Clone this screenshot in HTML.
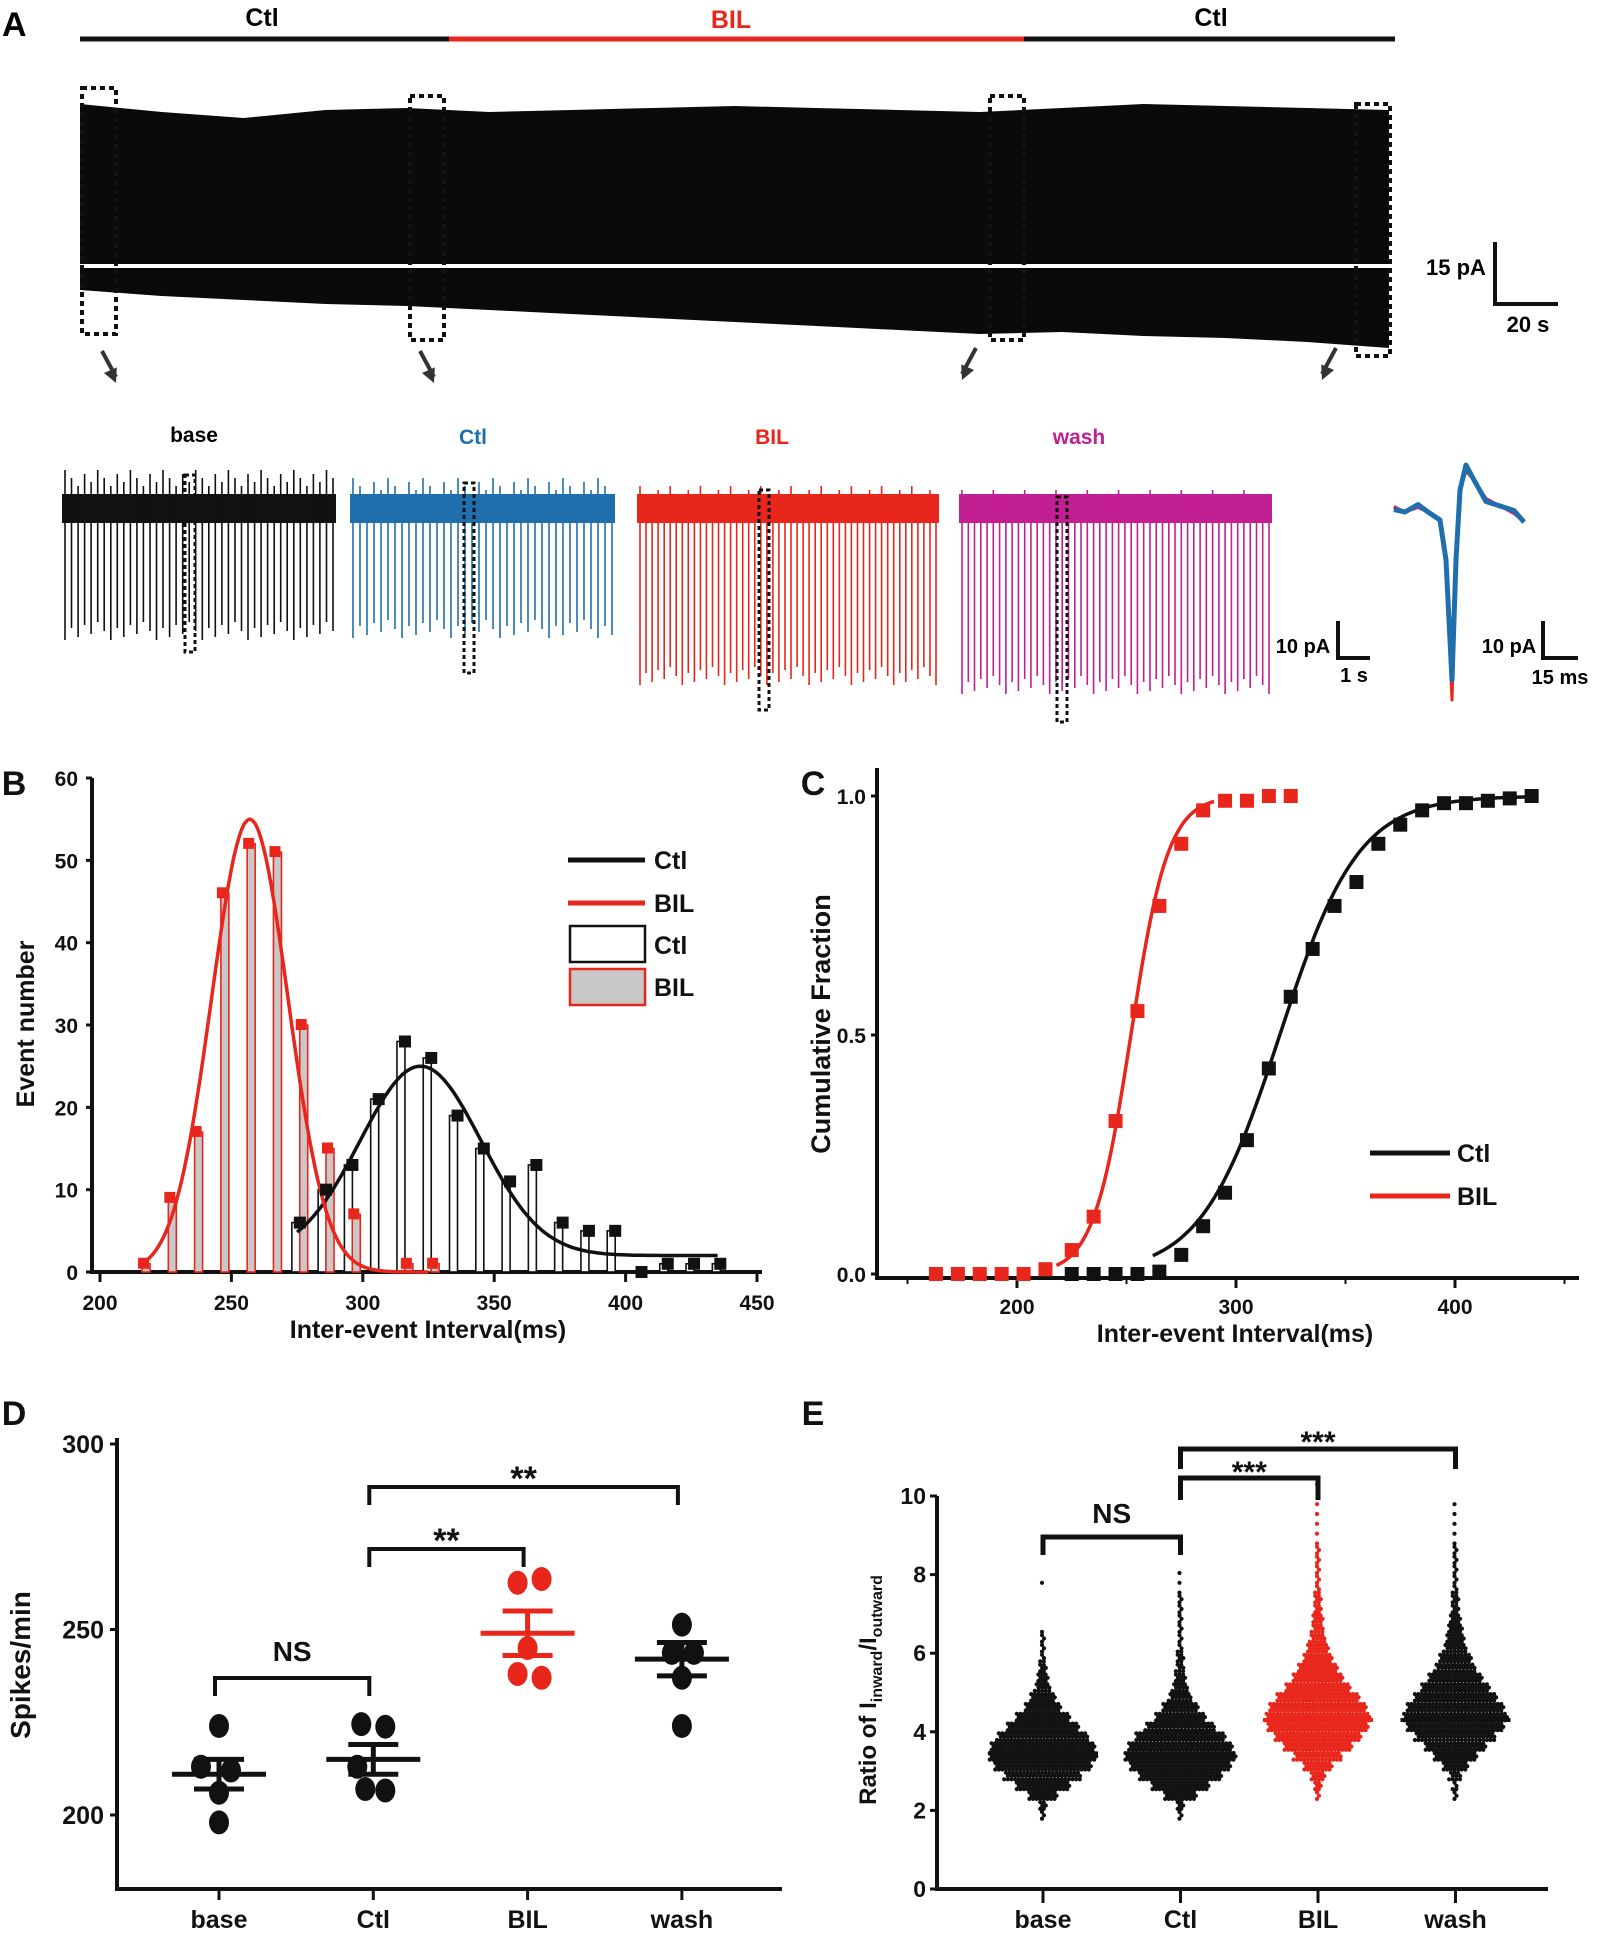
<!DOCTYPE html>
<html><head><meta charset="utf-8"><style>
html,body{margin:0;padding:0;background:#fff}
svg{display:block}
text{font-family:"Liberation Sans Narrow","Liberation Sans",sans-serif;font-weight:bold}
</style></head><body>
<svg id="fig" width="1598" height="1934" viewBox="0 0 1598 1934" xmlns="http://www.w3.org/2000/svg">
<g id="pa">
<text x="2" y="36" font-size="34">A</text>
<line x1="80" y1="39" x2="449" y2="39" stroke="#111" stroke-width="5"/>
<line x1="449" y1="39" x2="1024" y2="39" stroke="#e8261b" stroke-width="5"/>
<line x1="1024" y1="39" x2="1395" y2="39" stroke="#111" stroke-width="5"/>
<text x="262" y="26" font-size="25" text-anchor="middle">Ctl</text>
<text x="731" y="28" font-size="25" text-anchor="middle" fill="#e8261b">BIL</text>
<text x="1211" y="26" font-size="25" text-anchor="middle">Ctl</text>
<text x="1456" y="275" font-size="22" text-anchor="middle">15 pA</text>
<path d="M1495 242 V304 H1558" fill="none" stroke="#111" stroke-width="4"/>
<text x="1528" y="332" font-size="22" text-anchor="middle">20 s</text>
<text x="1303" y="653" font-size="20" text-anchor="middle">10 pA</text>
<path d="M1338 621 V658 H1370" fill="none" stroke="#111" stroke-width="4"/>
<text x="1354" y="682" font-size="20" text-anchor="middle">1 s</text>
<text x="1509" y="653" font-size="20" text-anchor="middle">10 pA</text>
<path d="M1543 621 V658 H1578" fill="none" stroke="#111" stroke-width="4"/>
<text x="1560" y="684" font-size="20" text-anchor="middle">15 ms</text>
<text x="194" y="442" font-size="21" text-anchor="middle">base</text>
<text x="473" y="444" font-size="21" text-anchor="middle" fill="#1f6fad">Ctl</text>
<text x="772" y="444" font-size="21" text-anchor="middle" fill="#e8261b">BIL</text>
<text x="1079" y="444" font-size="21" text-anchor="middle" fill="#c21f93">wash</text>
</g>
<g id="pb"></g>
<g id="pc"></g>
<g id="pd"></g>
<g id="pe"></g>
</svg>
<script>
// ---------- Panel A data ----------
const traceTopEnv = [104,112,118,110,108,112,110,108,106,108,110,112,108,104,106,108,110];
const traceBotEnv = [290,296,300,304,306,310,314,318,322,326,330,334,332,336,338,342,348];
const zoomBoxesX = [82,410,990,1356];
const subTraceNames = ['base','ctl','bil','wash'];
const subTraceColors = ['#111','#1f6fad','#e8261b','#c21f93'];
const subTraceX0 = [62,350,637,959];
const subTraceX1 = [336,615,939,1272];
const subSpikeCount = [42,38,50,50];
const subSpikeUp = [470,478,486,490];
const subSpikeDown = [640,638,685,694];

// ---------- Panel B data ----------
const bTicksX = [200,250,300,350,400,450];
const bTicksY = [0,10,20,30,40,50,60];
const bilBins = [216,226,236,246,256,266,276,286,296,316,326];
const bilCounts = [1,9,17,46,52,51,30,15,7,1,1];
const ctlBins = [273,283,293,303,313,323,333,343,353,363,373,383,393,403,413,423,433];
const ctlCounts = [6,10,13,21,28,26,19,15,11,13,6,5,5,0,1,1,1];
const bilFit = [55,257,14.5,0];     // amp, mean, sigma, offset
const ctlFit = [23,322,23,2];

// ---------- Panel C data ----------
const cTicksX = [200,300,400];
const cTicksY = [0.0,0.5,1.0];
const bilCdfX = [163,173,183,193,203,213,225,235,245,255,265,275,285,295,305,315,325];
const bilCdfY = [0,0,0,0,0,0.01,0.05,0.12,0.32,0.55,0.77,0.90,0.97,0.99,0.99,1.0,1.0];
const ctlCdfX = [225,235,245,255,265,275,285,295,305,315,325,335,345,355,365,375,385,395,405,415,425,435];
const ctlCdfY = [0,0,0,0,0.005,0.04,0.10,0.17,0.28,0.43,0.58,0.68,0.77,0.82,0.90,0.94,0.97,0.985,0.985,0.99,0.995,1.0];
const bilCdfFit = [252,8.5];
const ctlCdfFit = [320,18];

// ---------- Panel D data ----------
const dCats = ['base','Ctl','BIL','wash'];
const dTicks = [200,250,300];
const dBase = [224,213,212,206,198];
const dCtl = [224.5,223.8,213,207,206.6];
const dBil = [262.6,263.6,245,238,237];
const dWash = [251.3,243.7,243.7,237,224];
const dMean = [211,215,249,242];
const dSem = [4,4,6,4.5];

// ---------- Panel E data ----------
const eCats = ['base','Ctl','BIL','wash'];
const eTicks = [0,2,4,6,8,10];
const eBinStart = 1.75, eBinStep = 0.25;
const eBase = [2,6,24,44,64,80,90,86,76,60,44,30,20,13,8,6,4,3,2,1,0,0,0,0,1];
const eCtl  = [2,6,26,48,68,84,92,86,74,58,42,29,19,13,9,7,5,4,3,3,2,2,2,1,1,1];
const eBil  = [0,0,2,5,12,24,40,56,72,84,88,80,68,54,42,32,24,18,13,10,8,6,5,4,3,3,2,2,1,1,1,1,1,0,1];
const eWash = [0,0,2,4,10,21,35,51,67,80,86,80,69,56,44,34,26,19,14,11,8,6,5,4,3,2,2,2,1,1,1,1,1];
const eMeans = [3.45,3.45,4.3,4.3];

const NS='http://www.w3.org/2000/svg';
function mk(parent,tag,attrs){const e=document.createElementNS(NS,tag);for(const k in attrs)e.setAttribute(k,attrs[k]);parent.appendChild(e);return e;}
function txt(parent,x,y,s,size,anchor,fill){const t=mk(parent,'text',{x:x,y:y,'font-size':size,'text-anchor':anchor||'middle',fill:fill||'#111'});t.textContent=s;return t;}

// ===== Panel A =====
(function(){
  const g=document.getElementById('pa');
  const x0=80,x1=1389,base=266;
  let d='M'+x0+' '+base;
  const n=traceTopEnv.length;
  for(let i=0;i<n;i++){d+=' L'+(x0+(x1-x0)*i/(n-1)).toFixed(1)+' '+traceTopEnv[i];}
  for(let i=n-1;i>=0;i--){d+=' L'+(x0+(x1-x0)*i/(n-1)).toFixed(1)+' '+traceBotEnv[i];}
  d+='Z';
  const p=mk(g,'path',{d:d,fill:'#0a0a0a'});
  
  
  const wl=mk(g,'line',{x1:x0,y1:base,x2:x1,y2:base,stroke:'#fff','stroke-width':4});
  
  
  const boxTop=[88,96,96,104],boxBot=[334,340,340,356];
  const arrowTip=[[116,383],[434,383],[962,380],[1322,380]];
  const arrowDir=[1,1,-1,-1];
  zoomBoxesX.forEach((bx,i)=>{
    const r=mk(g,'rect',{x:bx,y:boxTop[i],width:34,height:boxBot[i]-boxTop[i],fill:'none',stroke:'#111','stroke-width':4,'stroke-dasharray':'5 4'});
    
    
    const [tx,ty]=arrowTip[i];
    const sx=tx-arrowDir[i]*14, sy=ty-32;
    const a=mk(g,'line',{x1:sx,y1:sy,x2:tx,y2:ty-6,stroke:'#333','stroke-width':4});
    
    
    const L=Math.hypot(tx-sx,ty-sy),ux=(tx-sx)/L,uy=(ty-sy)/L,px=-uy,py=ux;
    const bxh=tx-ux*14,byh=ty-uy*14;
    const h=mk(g,'polygon',{points:`${tx},${ty} ${(bxh+px*7).toFixed(1)},${(byh+py*7).toFixed(1)} ${(bxh-px*7).toFixed(1)},${(byh-py*7).toFixed(1)}`,fill:'#333'});
    
    
  });
  subTraceNames.forEach((nm,i)=>{
    const sg=mk(g,'g',{});
    
    
    const c=subTraceColors[i],a=subTraceX0[i],b=subTraceX1[i];
    mk(sg,'rect',{x:a,y:494,width:b-a,height:29,fill:c});
    const cnt=subSpikeCount[i];
    let sd='';
    for(let k=0;k<cnt;k++){
      const x=(a+3+(b-a-6)*k/(cnt-1)).toFixed(1);
      const up=subSpikeUp[i]+((k*7)%5)*4, dn=subSpikeDown[i]-((k*11)%7)*3;
      sd+=`M${x} ${up} V${dn} `;
    }
    mk(sg,'path',{d:sd,stroke:c,'stroke-width':1.6,fill:'none'});
    const bx=[190,469,764,1062][i];
    const br=mk(sg,'rect',{x:bx-5,y:[475,483,490,497][i],width:10,height:[177,190,220,225][i],fill:'none',stroke:'#111','stroke-width':3,'stroke-dasharray':'4 3'});
    
    
  });
  const wcols=['#c21f93','#e8261b','#111','#1f6fad'];
  wcols.forEach((c,j)=>{
    const o=j-1.5;
    const pts=[[1394,508+o],[1405,512],[1418,506-o],[1428,512],[1440,520],[1446,560],[1452,700-(j==1?0:20)],[1456,560],[1460,490],[1466,468-o*2],[1474,480],[1486,500+o],[1500,506],[1514,512-o],[1524,522]];
    const wp=mk(g,'polyline',{points:pts.map(p=>p.join(',')).join(' '),fill:'none',stroke:c,'stroke-width':j==3?5:3,'stroke-linejoin':'round'});
    
    
  });
})();

// ===== Panel B =====
const xB=ms=>100+(ms-200)*2.628;
const yB=v=>1272-v*8.233;
(function(){
  const g=document.getElementById('pb');
  txt(g,14,795,'B',34,'middle');
  const ax=mk(g,'path',{d:`M92 778 V1272 H762`,fill:'none',stroke:'#111','stroke-width':4});
  
  
  bTicksX.forEach(v=>{mk(g,'line',{x1:xB(v),y1:1272,x2:xB(v),y2:1282,stroke:'#111','stroke-width':3});
    const t=txt(g,xB(v),1310,String(v),21);});
  bTicksY.forEach(v=>{mk(g,'line',{x1:86,y1:yB(v),x2:92,y2:yB(v),stroke:'#111','stroke-width':3});
    const t=txt(g,78,yB(v)+8,String(v),21,'end');});
  const yl=txt(g,0,0,'Event number',25);yl.setAttribute('transform','translate(34,1024) rotate(-90)');
  
  const xl=txt(g,428,1338,'Inter-event Interval(ms)',25);
  
  const bw=8;
  ctlBins.forEach((ms,i)=>{
    const r=mk(g,'rect',{x:xB(ms),y:yB(ctlCounts[i]),width:bw,height:yB(0)-yB(ctlCounts[i]),fill:'#fff',stroke:'#111','stroke-width':1.6});
    
  });
  bilBins.forEach((ms,i)=>{
    const r=mk(g,'rect',{x:xB(ms),y:yB(bilCounts[i]),width:bw,height:yB(0)-yB(bilCounts[i]),fill:'#c8c8c8',stroke:'#e8261b','stroke-width':1.6});
    
  });
  function gauss(p,x){return p[3]+p[0]*Math.exp(-Math.pow(x-p[1],2)/(2*p[2]*p[2]));}
  let dc='';for(let ms=275;ms<=435;ms+=1){dc+=(ms==275?'M':'L')+xB(ms).toFixed(1)+' '+yB(gauss(ctlFit,ms)).toFixed(1);}
  const pc=mk(g,'path',{d:dc,fill:'none',stroke:'#111','stroke-width':3.5});
  let db='';for(let ms=215;ms<=325;ms+=1){db+=(ms==215?'M':'L')+xB(ms).toFixed(1)+' '+yB(gauss(bilFit,ms)).toFixed(1);}
  const pb=mk(g,'path',{d:db,fill:'none',stroke:'#e8261b','stroke-width':3.5});
  ctlBins.forEach((ms,i)=>{const m=mk(g,'rect',{x:xB(ms)+2,y:yB(ctlCounts[i])-6,width:12,height:12,fill:'#111'});});
  bilBins.forEach((ms,i)=>{const m=mk(g,'rect',{x:xB(ms)-4,y:yB(bilCounts[i])-6,width:11,height:11,fill:'#e8261b'});});
  const lg=mk(g,'g',{});
  mk(lg,'line',{x1:568,y1:860,x2:645,y2:860,stroke:'#111','stroke-width':5});
  txt(lg,654,869,'Ctl',25,'start');
  mk(lg,'line',{x1:568,y1:903,x2:645,y2:903,stroke:'#e8261b','stroke-width':5});
  txt(lg,654,912,'BIL',25,'start');
  mk(lg,'rect',{x:570,y:926,width:75,height:36,fill:'#fff',stroke:'#111','stroke-width':2.5});
  txt(lg,654,954,'Ctl',25,'start');
  mk(lg,'rect',{x:570,y:969,width:75,height:36,fill:'#c8c8c8',stroke:'#e8261b','stroke-width':2.5});
  txt(lg,654,996,'BIL',25,'start');
})();

// ===== Panel C =====
const xC=ms=>1017+(ms-200)*2.19;
const yC=f=>1274-f*478;
(function(){
  const g=document.getElementById('pc');
  txt(g,813,795,'C',34,'middle');
  const ax=mk(g,'path',{d:`M877 768 V1278 H1579`,fill:'none',stroke:'#111','stroke-width':4});
  
  cTicksX.forEach(v=>{mk(g,'line',{x1:xC(v),y1:1278,x2:xC(v),y2:1288,stroke:'#111','stroke-width':3});
    const t=txt(g,xC(v),1314,String(v),21);});
  [150,250,350,450].forEach(v=>mk(g,'line',{x1:xC(v),y1:1278,x2:xC(v),y2:1284,stroke:'#111','stroke-width':2}));
  cTicksY.forEach(v=>{mk(g,'line',{x1:871,y1:yC(v),x2:877,y2:yC(v),stroke:'#111','stroke-width':3});
    const t=txt(g,866,yC(v)+8,v.toFixed(1),21,'end');});
  const yl=txt(g,0,0,'Cumulative Fraction',27);yl.setAttribute('transform','translate(830,1024) rotate(-90)');
  
  const xl=txt(g,1235,1342,'Inter-event Interval(ms)',25);
  
  const logi=(p,x)=>1/(1+Math.exp(-(x-p[0])/p[1]));
  let dr='';for(let ms=218;ms<=290;ms++){dr+=(ms==218?'M':'L')+xC(ms).toFixed(1)+' '+yC(logi(bilCdfFit,ms)).toFixed(1);}
  const pr=mk(g,'path',{d:dr,fill:'none',stroke:'#e8261b','stroke-width':3.5});
  let dk='';for(let ms=262;ms<=435;ms++){dk+=(ms==262?'M':'L')+xC(ms).toFixed(1)+' '+yC(logi(ctlCdfFit,ms)).toFixed(1);}
  const pk=mk(g,'path',{d:dk,fill:'none',stroke:'#111','stroke-width':3.5});
  bilCdfX.forEach((ms,i)=>{const m=mk(g,'rect',{x:xC(ms)-7,y:yC(bilCdfY[i])-7,width:14,height:14,fill:'#e8261b'});});
  ctlCdfX.forEach((ms,i)=>{const m=mk(g,'rect',{x:xC(ms)-7,y:yC(ctlCdfY[i])-7,width:14,height:14,fill:'#111'});});
  const lg=mk(g,'g',{});
  mk(lg,'line',{x1:1370,y1:1153,x2:1450,y2:1153,stroke:'#111','stroke-width':5});
  txt(lg,1457,1162,'Ctl',25,'start');
  mk(lg,'line',{x1:1370,y1:1196,x2:1450,y2:1196,stroke:'#e8261b','stroke-width':5});
  txt(lg,1457,1205,'BIL',25,'start');
})();

// ===== Panel D =====
const yD=v=>1815-(v-200)*3.71;
const xD=i=>219+i*154.3;
(function(){
  const g=document.getElementById('pd');
  txt(g,14,1425,'D',34,'middle');
  const ax=mk(g,'path',{d:`M117 1438 V1889 H782`,fill:'none',stroke:'#111','stroke-width':4});
  
  dTicks.forEach(v=>{mk(g,'line',{x1:110,y1:yD(v),x2:117,y2:yD(v),stroke:'#111','stroke-width':3});
    const t=txt(g,104,yD(v)+9,String(v),25,'end');});
  dCats.forEach((c,i)=>{mk(g,'line',{x1:xD(i),y1:1889,x2:xD(i),y2:1900,stroke:'#111','stroke-width':3});
    const t=txt(g,xD(i),1928,c,25);});
  const yl=txt(g,0,0,'Spikes/min',28);yl.setAttribute('transform','translate(30,1665) rotate(-90)');
  
  const series=[dBase,dCtl,dBil,dWash];
  const jits=[[0,-18,12,0,0],[-12,12,-16,-8,12],[-10,14,0,-10,14],[0,-10,12,0,0]];
  series.forEach((arr,i)=>{
    const col=i==2?'#e8261b':'#111';
    arr.forEach((v,k)=>{
      const e=mk(g,'ellipse',{cx:xD(i)+jits[i][k],cy:yD(v),rx:10,ry:12,fill:col});
      
    });
    const m=dMean[i],s=dSem[i],x=xD(i);
    const eg=mk(g,'path',{d:`M${x-47} ${yD(m)} H${x+47} M${x} ${yD(m+s)} V${yD(m-s)} M${x-25} ${yD(m+s)} H${x+25} M${x-25} ${yD(m-s)} H${x+25}`,stroke:col,'stroke-width':5,fill:'none'});
    
  });
  const br=[[0,1,1678,'NS',1651],[1,2,1549,'**',1532],[1,3,1487,'**',1470]];
  br.forEach(b=>{
    const p=mk(g,'path',{d:`M${xD(b[0])-4} ${b[2]+18} V${b[2]} H${xD(b[1])-4} V${b[2]+18}`,fill:'none',stroke:'#111','stroke-width':4});
    
    const t=txt(g,(xD(b[0])+xD(b[1]))/2-4,b[4]+(b[3]=='NS'?10:20),b[3],b[3]=='NS'?28:34);
    
  });
})();

// ===== Panel E =====
const yE=v=>1889-v*39.3;
const xE=i=>1043+i*137.5;
(function(){
  const g=document.getElementById('pe');
  txt(g,813,1425,'E',34,'middle');
  const ax=mk(g,'path',{d:`M937 1496 V1889 H1548`,fill:'none',stroke:'#111','stroke-width':4});
  
  eTicks.forEach(v=>{mk(g,'line',{x1:930,y1:yE(v),x2:937,y2:yE(v),stroke:'#111','stroke-width':3});
    const t=txt(g,926,yE(v)+8,String(v),23,'end');});
  eCats.forEach((c,i)=>{mk(g,'line',{x1:xE(i),y1:1889,x2:xE(i),y2:1903,stroke:'#111','stroke-width':3});
    const t=txt(g,xE(i),1928,c,25);});
  const yl=mk(g,'text',{transform:'translate(876,1690) rotate(-90)','text-anchor':'middle','font-size':24,fill:'#111'});
  yl.innerHTML='Ratio of I<tspan font-size="16" dy="6">inward</tspan><tspan dy="-6">/I</tspan><tspan font-size="16" dy="6">outward</tspan>';
  
  const groups=[eBase,eCtl,eBil,eWash];
  groups.forEach((cnts,i)=>{
    const col=i==2?'#e8261b':'#111';
    const sg=mk(g,'g',{fill:col});
    
    cnts.forEach((n,b)=>{
      const rows=3;
      for(let r=0;r<rows;r++){
        const per=Math.round(n/rows+(r<n%rows?0.5:0));
        const yv=eBinStart+b*eBinStep+(r+0.5)*eBinStep/rows;
        for(let k=0;k<per;k++){
          const off=(k-(per-1)/2)*3.6+((r%2)?1:-1);
          mk(sg,'circle',{cx:(xE(i)+off).toFixed(1),cy:yE(yv).toFixed(1),r:2.1});
        }
      }
    });
    const ml=mk(g,'line',{x1:xE(i)-55,y1:yE(eMeans[i]),x2:xE(i)+55,y2:yE(eMeans[i]),stroke:col,'stroke-width':4});
    
  });
  const br=[[0,1,1537,'NS',1528,18],[1,2,1478,'***',1470,22],[1,3,1449,'***',1440,20]];
  br.forEach(b=>{
    const p=mk(g,'path',{d:`M${xE(b[0])} ${b[2]+b[5]} V${b[2]} H${xE(b[1])} V${b[2]+b[5]}`,fill:'none',stroke:'#111','stroke-width':5});
    
    const t=txt(g,(xE(b[0])+xE(b[1]))/2,b[4]+(b[3]=='NS'?-5:12),b[3],b[3]=='NS'?28:30);
    
  });
})();
</script>
</body></html>
